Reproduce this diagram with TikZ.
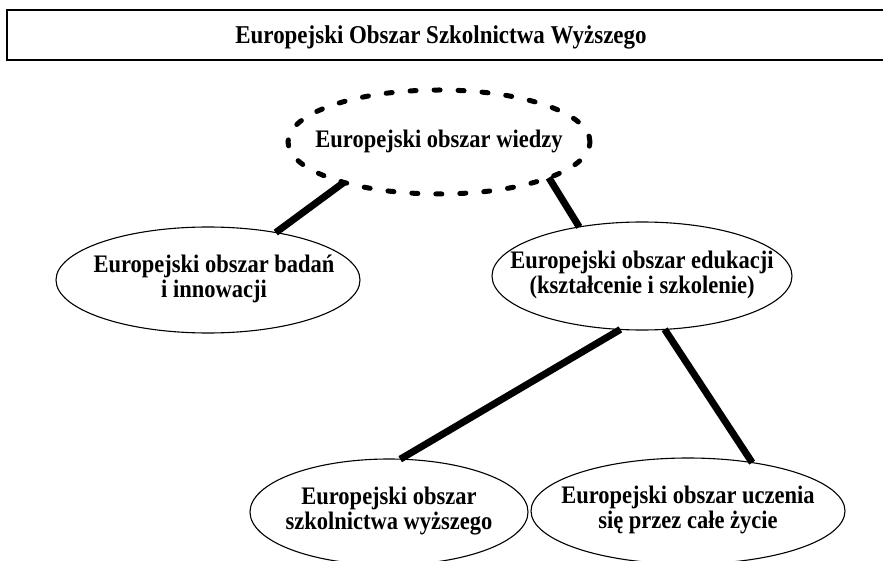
\documentclass[tikz,border=0pt]{standalone}
\usepackage{fontspec}
\setmainfont{Liberation Serif}
\usetikzlibrary{shapes.geometric}
\newcommand\ctext[1]{\makebox[0pt]{\scalebox{1}[1.12]{\begin{tabular}{@{}c@{}}#1\end{tabular}}}}
\begin{document}
\begin{tikzpicture}[x=1pt,y=-1pt,
  lbl/.style={font=\fontsize{22.5}{22.5}\selectfont\bfseries},
  oval/.style={ellipse, draw, line width=1.1pt, inner sep=0pt, outer sep=0pt, lbl},
  cloud/.style={ellipse, draw, line width=5pt, dash pattern=on 6pt off 18pt, line cap=round, inner sep=0pt, outer sep=0pt, lbl},
  link/.style={line width=7pt}]
\useasboundingbox (0,0) rectangle (883,561);
\fill[white] (0,0) rectangle (883,561);
\draw[line width=2.5pt] (890,10) -- (7,10) -- (7,60) -- (890,60);
\node[lbl] (title) at (441,37) {\scalebox{1.02}[1.14]{Europejski Obszar Szkolnictwa Wyższego}};
\node[cloud, minimum width=302pt, minimum height=104pt] (wiedzy) at (439,142) {\ctext{Europejski obszar wiedzy}};
\node[oval, minimum width=304pt, minimum height=106pt] (badan) at (208,280) {\hspace*{12pt}\ctext{Europejski obszar badań\\ i innowacji}};
\node[oval, minimum width=300pt, minimum height=108pt] (eduk) at (642,276) {\ctext{Europejski obszar edukacji\\(kształcenie i szkolenie)}};
\node[oval, minimum width=278pt, minimum height=106pt] (wyz) at (389,512) {\ctext{Europejski obszar\\szkolnictwa wyższego}};
\node[oval, minimum width=314pt, minimum height=106pt] (ucz) at (688,511) {\ctext{Europejski obszar uczenia\\się przez całe życie}};
\draw[link] (wiedzy.203) -- (badan.35);
\draw[link] (wiedzy.342) -- (eduk.142);
\draw[link] (eduk.248) -- (wyz.78);
\draw[link] (eduk.293) -- (ucz.37);
\end{tikzpicture}
\end{document}
